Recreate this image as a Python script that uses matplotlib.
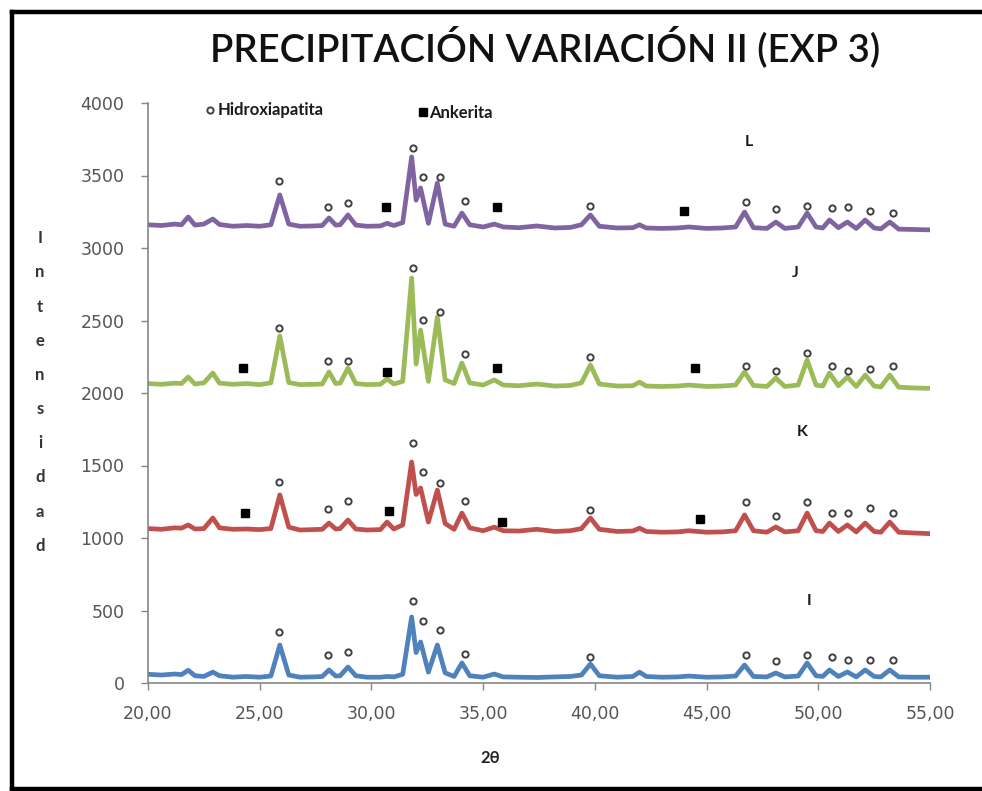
import matplotlib
matplotlib.use("Agg")
import matplotlib.pyplot as plt
from matplotlib.lines import Line2D

plt.rcParams["font.family"] = ["Lato", "DejaVu Sans"]

# 2-theta grid shared by the four diffractograms
TWO_THETA = [
    20.0, 20.6, 21.2, 21.5, 21.8, 22.1, 22.5, 22.9, 23.2, 23.8,
    24.4, 25.0, 25.5, 25.9, 26.3, 26.8, 27.4, 27.8, 28.1, 28.4,
    28.6, 28.95, 29.3, 29.8, 30.4, 30.7, 31.0, 31.4, 31.8, 32.0,
    32.2, 32.55, 32.95, 33.3, 33.7, 34.05, 34.4, 35.0, 35.5, 35.9,
    36.6, 37.4, 38.2, 38.9, 39.4, 39.8, 40.2, 41.0, 41.7, 42.0,
    42.3, 43.0, 43.7, 44.2, 45.0, 45.7, 46.3, 46.7, 47.1, 47.7,
    48.1, 48.5, 49.1, 49.5, 49.9, 50.2, 50.5, 50.9, 51.3, 51.7,
    52.1, 52.5, 52.8, 53.2, 53.6, 54.2, 55.0,
]

# intensities (curves already shifted by the plotting offset)
INT_I = [
    60, 55, 62, 58, 88, 50, 45, 75, 50, 40,
    45, 40, 48, 262, 55, 40, 42, 45, 90, 48,
    50, 110, 50, 40, 40, 45, 42, 60, 455, 210,
    283, 75, 262, 70, 45, 138, 50, 40, 62, 42,
    40, 38, 42, 45, 55, 131, 50, 40, 45, 75,
    45, 40, 42, 48, 40, 42, 48, 124, 45, 42,
    69, 42, 48, 138, 50, 45, 90, 45, 76, 42,
    90, 45, 42, 90, 42, 40, 40,
]
INT_K = [
    1065, 1060, 1070, 1068, 1090, 1062, 1065, 1138, 1070, 1060,
    1062, 1058, 1065, 1297, 1075, 1055, 1058, 1060, 1103, 1062,
    1065, 1124, 1062, 1055, 1058, 1110, 1062, 1090, 1524, 1300,
    1345, 1110, 1331, 1100, 1060, 1172, 1070, 1050, 1075, 1050,
    1048, 1060, 1045, 1050, 1065, 1138, 1060, 1045, 1048, 1068,
    1045, 1040, 1042, 1050, 1040, 1042, 1050, 1159, 1050, 1040,
    1076, 1042, 1050, 1172, 1050, 1045, 1103, 1045, 1090, 1042,
    1103, 1045, 1040, 1110, 1040, 1035, 1030,
]
INT_J = [
    2065, 2060, 2068, 2065, 2110, 2062, 2070, 2138, 2068, 2060,
    2065, 2058, 2070, 2393, 2072, 2058, 2060, 2062, 2145, 2065,
    2068, 2172, 2065, 2058, 2060, 2097, 2062, 2080, 2793, 2200,
    2434, 2080, 2524, 2090, 2065, 2207, 2070, 2055, 2090, 2055,
    2050, 2062, 2048, 2052, 2070, 2193, 2062, 2048, 2050, 2075,
    2048, 2045, 2048, 2055, 2045, 2048, 2055, 2145, 2052, 2045,
    2103, 2045, 2055, 2228, 2055, 2048, 2138, 2050, 2110, 2045,
    2124, 2048, 2042, 2124, 2040, 2035, 2032,
]
INT_L = [
    3160, 3155, 3165, 3160, 3214, 3158, 3165, 3200, 3162, 3150,
    3155, 3150, 3160, 3366, 3165, 3150, 3152, 3155, 3207, 3158,
    3160, 3228, 3158, 3150, 3152, 3170, 3155, 3175, 3628, 3330,
    3414, 3170, 3448, 3165, 3150, 3241, 3160, 3145, 3165, 3145,
    3140, 3152, 3138, 3142, 3160, 3228, 3150, 3138, 3140, 3160,
    3138, 3135, 3138, 3145, 3135, 3138, 3145, 3248, 3140, 3135,
    3179, 3135, 3145, 3241, 3145, 3138, 3193, 3140, 3179, 3135,
    3193, 3138, 3132, 3179, 3130, 3128, 3125,
]

# hydroxyapatite reflections (open circles)
HAP_POS = [25.85, 28.05, 28.95, 31.85, 32.3, 33.05, 34.2, 39.8,
           46.75, 48.1, 49.5, 50.6, 51.35, 52.3, 53.35]
HAP_I = [352, 193, 214, 566, 428, 366, 200, 179, 193, 152, 193, 179, 159, 159, 159]
HAP_K = [1386, 1200, 1255, 1655, 1455, 1379, 1255, 1193, 1248, 1152, 1248, 1172, 1172, 1207, 1172]
HAP_J = [2448, 2221, 2221, 2862, 2503, 2559, 2269, 2248, 2186, 2152, 2276, 2186, 2152, 2166, 2186]
HAP_L = [3462, 3283, 3310, 3690, 3490, 3490, 3324, 3290, 3317, 3269, 3290, 3276, 3283, 3255, 3241]

# ankerite reflections (filled squares)
ANK_K_X = [24.35, 30.8, 35.85, 44.7]
ANK_K_Y = [1172, 1186, 1110, 1131]
ANK_J_X = [24.25, 30.7, 35.6, 44.5]
ANK_J_Y = [2172, 2145, 2172, 2172]
ANK_L_X = [30.65, 35.6, 44.0]
ANK_L_Y = [3283, 3283, 3255]

SAMPLES = ["I", "K", "J", "L"]
COLORS = ["#4F81BD", "#C0504D", "#9BBB59", "#8064A2"]
LABEL_X = [49.6, 49.3, 48.96, 46.9]
LABEL_Y = [566, 1731, 2828, 3731]

XTICKS = [20, 25, 30, 35, 40, 45, 50, 55]
XTICK_LABELS = ["20,00", "25,00", "30,00", "35,00", "40,00", "45,00", "50,00", "55,00"]
YTICKS = [0, 500, 1000, 1500, 2000, 2500, 3000, 3500, 4000]

curves = [INT_I, INT_K, INT_J, INT_L]
hap = [HAP_I, HAP_K, HAP_J, HAP_L]
ank = [(None, None), (ANK_K_X, ANK_K_Y), (ANK_J_X, ANK_J_Y), (ANK_L_X, ANK_L_Y)]

fig = plt.figure(figsize=(9.82, 7.91), dpi=100)
ax = fig.add_axes([148 / 982, 1 - 683 / 791, (930 - 148) / 982, (683 - 103) / 791])

for y, color in zip(curves, COLORS):
    ax.plot(TWO_THETA, y, color=color, lw=3.4, solid_joinstyle="round", zorder=2)

circle_kw = dict(marker="o", ms=4.5, mfc="white", mec="#404040", mew=1.4,
                 ls="none", zorder=4)
square_kw = dict(marker="s", ms=6, mfc="black", mec="black", ls="none", zorder=4)

for h in hap:
    ax.plot(HAP_POS, h, **circle_kw)
for xs, ys in ank:
    if xs is not None:
        ax.plot(xs, ys, **square_kw)

for name, lx, ly in zip(SAMPLES, LABEL_X, LABEL_Y):
    ax.text(lx, ly, name, fontsize=11.5, fontweight="bold", ha="center", va="center",
            color="#1a1a1a")

# phase key inside the plot area
ax.plot([22.78], [3952], **circle_kw)
ax.text(23.1, 3952, "Hidroxiapatita", fontsize=12, fontweight="bold",
        va="center", ha="left", color="#1a1a1a")
ax.plot([32.3], [3940], **square_kw)
ax.text(32.6, 3930, "Ankerita", fontsize=12, fontweight="bold",
        va="center", ha="left", color="#1a1a1a")

ax.set_xlim(20, 55)
ax.set_ylim(0, 4000)
ax.set_xticks(XTICKS)
ax.set_xticklabels(XTICK_LABELS)
ax.set_yticks(YTICKS)
ax.tick_params(axis="both", direction="out", length=5, width=1, color="#868686",
               labelsize=12.5, labelcolor="#555555")
ax.tick_params(axis="y", pad=12)
ax.tick_params(axis="x", pad=11)
for lbl in ax.get_xticklabels() + ax.get_yticklabels():
    lbl.set_family("DejaVu Sans")
for side in ("top", "right"):
    ax.spines[side].set_visible(False)
for side in ("left", "bottom"):
    ax.spines[side].set_color("#868686")
    ax.spines[side].set_linewidth(1.2)

fig.text(545 / 982, 1 - 47 / 791, "PRECIPITACIÓN VARIACIÓN II (EXP 3)",
         fontsize=27.5, fontweight="semibold", ha="center", va="center",
         color="#111111")
fig.text(490 / 982, 1 - 758 / 791, "2θ", fontsize=12, fontweight="bold",
         ha="center", va="center", color="#222222")
fig.text(40 / 982, 1 - 392 / 791, "\n".join("Intensidad"), fontsize=12,
         fontweight="bold", ha="center", va="center", linespacing=2.4,
         color="#333333")

# black frame round the chart
frame = dict(color="black", lw=3.2, transform=fig.transFigure)
fig.add_artist(Line2D([12 / 982, 12 / 982], [1 - 12 / 791, 1 - 789 / 791], **frame))
fig.add_artist(Line2D([12 / 982, 1.0], [1 - 12 / 791, 1 - 12 / 791], **frame))
fig.add_artist(Line2D([12 / 982, 1.0], [1 - 789 / 791, 1 - 789 / 791], **frame))

fig.savefig("out.png", dpi=100)
